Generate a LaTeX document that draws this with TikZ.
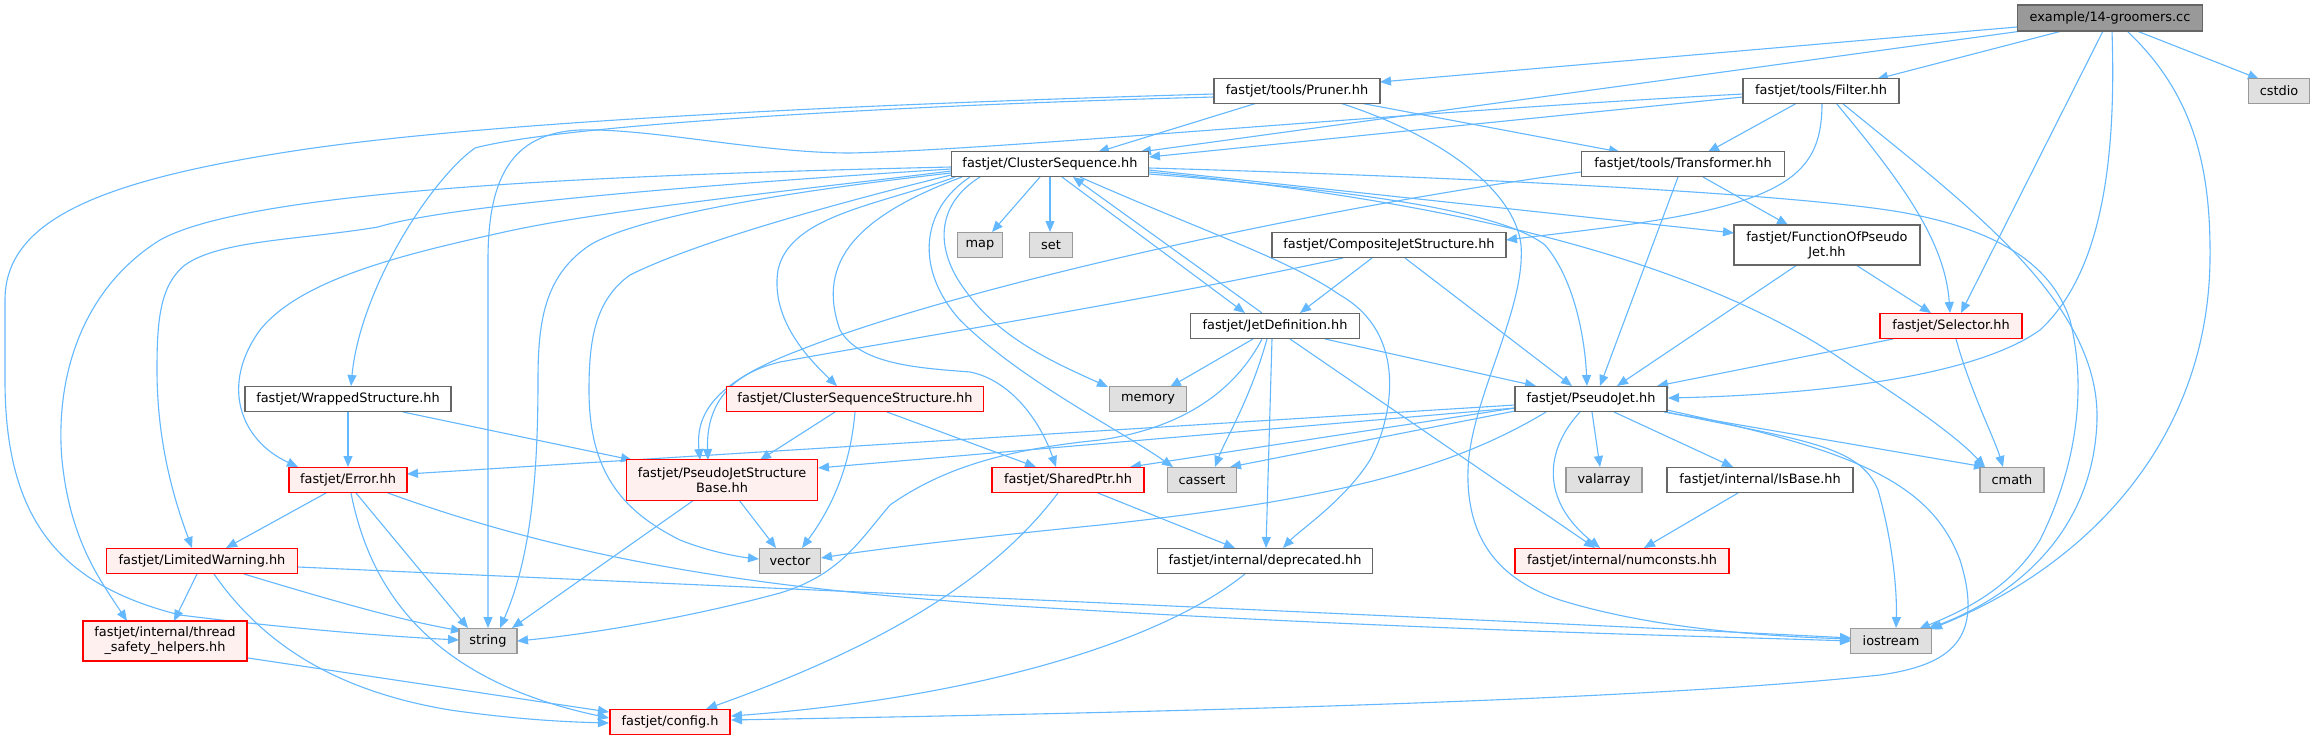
\documentclass[tikz,border=0pt]{standalone}
\usepackage{fontspec}
\setmainfont{DejaVu Sans}
\usetikzlibrary{arrows.meta,calc}
\definecolor{edgec}{HTML}{63B8FF}
\definecolor{nodeb}{HTML}{666666}
\definecolor{sysb}{HTML}{999999}
\definecolor{sysf}{HTML}{E0E0E0}
\definecolor{redf}{HTML}{FFF0F0}
\definecolor{egray}{HTML}{999999}
\pgfdeclarelayer{bg}
\pgfsetlayers{bg,main}
\begin{document}
\begin{tikzpicture}[x=0.5pt,y=-0.5pt,
  base/.style={line width=0.6pt, inner sep=0pt, minimum height=12.5pt, font=\fontsize{6.45}{7.5}\selectfont, align=center, text=black},
  wbox/.style={base, draw=nodeb, fill=white},
  gbox/.style={base, draw=nodeb, fill=egray},
  sbox/.style={base, draw=sysb, fill=sysf},
  rbox/.style={base, draw=red, fill=redf},
  nw/.style={minimum width=#1*0.5pt},
  tall/.style={minimum height=20pt},
  ed/.style={draw=edgec, line width=0.55pt, -{Triangle[length=5.5pt,width=4.5pt]}}]
\useasboundingbox (0,0) rectangle (2315,740);
% nodes
\node[gbox, nw=185, minimum height=13pt] (E) at (2110,18) {example/14-groomers.cc};
\node[sbox, nw=61] (cstdio) at (2279,91) {cstdio};
\node[wbox, nw=156] (filter) at (1821,91) {fastjet/tools/Filter.hh};
\node[wbox, nw=166] (pruner) at (1297,91) {fastjet/tools/Pruner.hh};
\node[wbox, nw=197] (cs) at (1050,164) {fastjet/ClusterSequence.hh};
\node[wbox, nw=203] (tr) at (1683,164) {fastjet/tools/Transformer.hh};
\node[sbox, nw=45] (map) at (980,245) {map};
\node[sbox, nw=43] (set) at (1051,245) {set};
\node[wbox, nw=234] (cjs) at (1389,245) {fastjet/CompositeJetStructure.hh};
\node[wbox, nw=186, tall] (fopj) at (1827,245) {fastjet/FunctionOfPseudo\\Jet.hh};
\node[wbox, nw=169] (jd) at (1275,326) {fastjet/JetDefinition.hh};
\node[rbox, nw=142] (sel) at (1951,326) {fastjet/Selector.hh};
\node[wbox, nw=206] (ws) at (348,399) {fastjet/WrappedStructure.hh};
\node[rbox, nw=257] (css) at (855,399) {fastjet/ClusterSequenceStructure.hh};
\node[sbox, nw=77] (mem) at (1148,399) {memory};
\node[wbox, nw=152] (pj) at (1591,399) {fastjet/PseudoJet.hh};
\node[rbox, nw=118] (err) at (348,480) {fastjet/Error.hh};
\node[rbox, nw=191, minimum height=20.5pt] (pjsb) at (722,480) {fastjet/PseudoJetStructure\\Base.hh};
\node[rbox, nw=152] (sp) at (1068,480) {fastjet/SharedPtr.hh};
\node[sbox, nw=69] (cas) at (1202,480) {cassert};
\node[sbox, nw=76] (val) at (1604,480) {valarray};
\node[wbox, nw=186] (isb) at (1760,480) {fastjet/internal/IsBase.hh};
\node[sbox, nw=64] (cmath) at (2012,480) {cmath};
\node[rbox, nw=191] (lw) at (202,561) {fastjet/LimitedWarning.hh};
\node[sbox, nw=61] (vec) at (790,561) {vector};
\node[wbox, nw=215] (dep) at (1265,561) {fastjet/internal/deprecated.hh};
\node[rbox, nw=214] (num) at (1622,561) {fastjet/internal/numconsts.hh};
\node[rbox, nw=164, tall] (thr) at (165,641) {fastjet/internal/thread\\\_safety\_helpers.hh};
\node[sbox, nw=58] (str) at (488,641) {string};
\node[sbox, nw=81] (ios) at (1891,641) {iostream};
\node[rbox, nw=120] (cfg) at (670,722) {fastjet/config.h};
\begin{pgfonlayer}{bg}
\fill[white] (0,0) rectangle (2315,740);
% example
\draw[ed] ($(E)+(-93,9)$) -- ($(pruner)+(83,-9)$);
\draw[ed] ($(E)+(-88,13)$) -- ($(cs)+(90,-12)$);
\draw[ed] ($(E)+(-48,13)$) -- ($(filter)+(56,-12)$);
\draw[ed] ($(E)+(-7,13)$) -- ($(sel)+(10,-13)$);
\draw[ed] ($(E)+(2,13)$) .. controls (2116,150) and (2105,270) .. (2040,330) .. controls (1970,380) and (1800,395) .. ($(pj)+(77,-1)$);
\draw[ed] ($(E)+(17,13)$) .. controls (2195,95) and (2211,170) .. (2210,260) .. controls (2208,430) and (2100,560) .. ($(ios)+(40,-12)$);
\draw[ed] ($(E)+(27,13)$) -- ($(cstdio)+(-20,-12)$);
% pruner
\draw[ed] ($(pruner)+(-40,12)$) -- ($(cs)+(48,-12)$);
\draw[ed] ($(pruner)+(63,12)$) -- ($(tr)+(-63,-12)$);
\draw[ed] ($(pruner)+(43,12)$) .. controls (1440,135) and (1515,190) .. (1521,245) .. controls (1526,310) and (1470,400) .. (1468,470) .. controls (1466,540) and (1500,580) .. (1560,600) .. controls (1650,628) and (1760,636) .. ($(ios)+(-40,-2)$);
\draw[ed] ($(pruner)+(-83,3)$) .. controls (900,103) and (500,120) .. (300,150) .. controls (100,180) and (5,220) .. (5,300) -- (5,380) .. controls (5,520) and (60,585) .. (180,615) .. controls (300,630) and (400,637) .. ($(str)+(-29,-1)$);
\draw[ed] ($(pruner)+(-83,6)$) .. controls (900,105) and (560,125) .. (475,148) .. controls (430,180) and (360,290) .. ($(ws)+(3,-13)$);
% filter
\draw[ed] ($(filter)+(-78,6)$) -- ($(cs)+(99,-7)$);
\draw[ed] ($(filter)+(-78,3)$) .. controls (1400,112) and (1000,150) .. (850,153) .. controls (760,153) and (650,128) .. (580,130) .. controls (510,133) and (488,180) .. (488,260) -- ($(str)+(0,-13)$);
\draw[ed] ($(filter)+(-24,12)$) -- ($(tr)+(25,-12)$);
\draw[ed] ($(filter)+(1,12)$) .. controls (1822,160) and (1800,190) .. (1700,212) .. controls (1640,225) and (1570,232) .. ($(cjs)+(117,-5)$);
\draw[ed] ($(filter)+(15,12)$) .. controls (1900,180) and (1945,240) .. ($(sel)+(-1,-13)$);
\draw[ed] ($(filter)+(21,12)$) .. controls (1960,200) and (2100,300) .. (2097,420) .. controls (2094,520) and (2030,590) .. ($(ios)+(37,-12)$);
% cluster sequence
\draw[ed] ($(cs)+(-10,13)$) -- ($(map)+(12,-13)$);
\draw[ed] ($(cs)+(0,13)$) -- ($(set)+(-1,-13)$);
\draw[ed] ($(cs)+(12,13)$) -- ($(jd)+(-30,-13)$);
\draw[ed] ($(jd)+(-13,-13)$) -- ($(cs)+(23,13)$);
\draw[ed] ($(cs)+(30,13)$) .. controls (1200,230) and (1290,260) .. (1340,295) .. controls (1410,335) and (1392,420) .. (1370,460) .. controls (1345,500) and (1300,530) .. ($(dep)+(18,-13)$);
\draw[ed] ($(cs)+(99,6)$) -- ($(fopj)+(-93,-12)$);
\draw[ed] ($(cs)+(99,8)$) .. controls (1450,200) and (1700,260) .. (1850,365) .. controls (1920,410) and (1960,440) .. ($(cmath)+(-27,-13)$);
\draw[ed] ($(cs)+(99,4)$) .. controls (1500,178) and (1800,195) .. (1900,212) .. controls (1990,228) and (2050,260) .. (2070,320) .. controls (2090,400) and (2070,480) .. (2040,540) .. controls (2010,590) and (1960,612) .. ($(ios)+(28,-12)$);
\draw[ed] ($(cs)+(99,10)$) .. controls (1350,190) and (1500,210) .. (1545,245) .. controls (1575,280) and (1585,340) .. ($(pj)+(-4,-13)$);
\draw[ed] ($(cs)+(-95,13)$) .. controls (880,205) and (790,215) .. (778,270) .. controls (770,320) and (810,360) .. ($(css)+(-18,-13)$);
\draw[ed] ($(cs)+(-88,13)$) .. controls (860,215) and (815,260) .. (840,330) .. controls (860,365) and (920,368) .. (970,372) .. controls (1010,380) and (1040,420) .. ($(sp)+(-12,-13)$);
\draw[ed] ($(cs)+(-80,13)$) .. controls (920,210) and (915,270) .. (960,320) .. controls (1020,380) and (1120,430) .. ($(cas)+(-29,-13)$);
\draw[ed] ($(cs)+(-70,13)$) .. controls (935,205) and (935,250) .. (965,290) .. controls (1000,340) and (1060,365) .. ($(mem)+(-40,-12)$);
\draw[ed] ($(cs)+(-99,3)$) .. controls (600,175) and (250,190) .. (160,240) .. controls (80,290) and (55,380) .. (62,460) .. controls (70,540) and (100,580) .. ($(thr)+(-38,-20)$);
\draw[ed] ($(cs)+(-99,5)$) .. controls (700,185) and (450,205) .. (378,227) .. controls (300,240) and (220,240) .. (185,265) .. controls (160,285) and (157,320) .. (157,370) .. controls (157,450) and (178,510) .. ($(lw)+(-10,-13)$);
\draw[ed] ($(cs)+(-99,7)$) .. controls (800,190) and (600,210) .. (500,233) .. controls (400,255) and (300,280) .. (260,330) .. controls (220,385) and (240,440) .. ($(err)+(-50,-13)$);
\draw[ed] ($(cs)+(-99,9)$) .. controls (800,190) and (640,215) .. (590,245) .. controls (545,275) and (538,320) .. (538,380) .. controls (538,480) and (530,560) .. ($(str)+(12,-13)$);
\draw[ed] ($(cs)+(-99,11)$) .. controls (850,200) and (700,240) .. (630,275) .. controls (595,300) and (589,340) .. (589,390) .. controls (589,470) and (620,510) .. (680,540) .. controls (710,552) and (740,557) .. ($(vec)+(-31,-2)$);
% jet definition
\draw[ed] ($(jd)+(-22,13)$) -- ($(mem)+(22,-12)$);
\draw[ed] ($(jd)+(-8,13)$) .. controls (1250,400) and (1225,440) .. ($(cas)+(13,-13)$);
\draw[ed] ($(jd)+(-3,13)$) -- ($(dep)+(1,-13)$);
\draw[ed] ($(jd)+(15,13)$) -- ($(num)+(-27,-13)$);
\draw[ed] ($(jd)+(50,13)$) -- ($(pj)+(-55,-13)$);
\draw[ed] ($(jd)+(-13,13)$) .. controls (1230,400) and (1170,430) .. (1100,440) .. controls (1000,450) and (940,470) .. (890,505) .. controls (860,540) and (840,575) .. (780,593) .. controls (680,620) and (580,635) .. ($(str)+(29,0)$);
% composite jet structure
\draw[ed] ($(cjs)+(-17,13)$) -- ($(jd)+(25,-13)$);
\draw[ed] ($(cjs)+(16,13)$) -- ($(pj)+(-19,-13)$);
\draw[ed] ($(cjs)+(-46,13)$) .. controls (1150,300) and (900,340) .. (780,362) .. controls (725,375) and (706,410) .. ($(pjsb)+(-14,-20)$);
% transformer
\draw[ed] ($(tr)+(-102,8)$) .. controls (1300,210) and (950,290) .. (800,350) .. controls (720,380) and (695,410) .. ($(pjsb)+(-22,-20)$);
\draw[ed] ($(tr)+(-5,13)$) -- ($(pj)+(9,-13)$);
\draw[ed] ($(tr)+(20,13)$) -- ($(fopj)+(-39,-20)$);
% function of pseudojet
\draw[ed] ($(fopj)+(-30,20)$) -- ($(pj)+(26,-13)$);
\draw[ed] ($(fopj)+(29,20)$) -- ($(sel)+(-20,-13)$);
% selector
\draw[ed] ($(sel)+(-58,13)$) -- ($(pj)+(66,-13)$);
\draw[ed] ($(sel)+(5,13)$) .. controls (1970,390) and (1995,440) .. ($(cmath)+(-9,-13)$);
% pseudojet
\draw[ed] ($(pj)+(-76,6)$) -- ($(err)+(59,-6)$);
\draw[ed] ($(pj)+(-76,9)$) -- ($(pjsb)+(96,-12)$);
\draw[ed] ($(pj)+(-76,9)$) -- ($(sp)+(62,-13)$);
\draw[ed] ($(pj)+(-76,12)$) -- ($(cas)+(28,-13)$);
\draw[ed] ($(pj)+(-45,13)$) .. controls (1450,470) and (1330,500) .. (1100,525) .. controls (950,540) and (870,550) .. ($(vec)+(31,-3)$);
\draw[ed] ($(pj)+(-11,13)$) .. controls (1545,450) and (1540,500) .. ($(num)+(-22,-13)$);
\draw[ed] ($(pj)+(1,13)$) -- ($(val)+(-4,-13)$);
\draw[ed] ($(pj)+(23,13)$) -- ($(isb)+(-27,-13)$);
\draw[ed] ($(pj)+(73,13)$) -- ($(cmath)+(-27,-13)$);
\draw[ed] ($(pj)+(75,13)$) .. controls (1800,440) and (1860,445) .. (1878,490) .. controls (1895,550) and (1897,600) .. ($(ios)+(5,-13)$);
\draw[ed] ($(pj)+(76,11)$) .. controls (1850,450) and (1930,480) .. (1960,560) .. controls (1985,640) and (1950,665) .. (1880,675) .. controls (1600,705) and (1000,715) .. ($(cfg)+(61,-2)$);
% deprecated, sharedptr
\draw[ed] ($(dep)+(-20,13)$) .. controls (1150,650) and (950,700) .. ($(cfg)+(61,-6)$);
\draw[ed] ($(sp)+(-10,13)$) .. controls (1000,570) and (900,640) .. ($(cfg)+(36,-13)$);
\draw[ed] ($(sp)+(30,13)$) -- ($(dep)+(-30,-13)$);
% cluster sequence structure
\draw[ed] ($(css)+(-20,13)$) -- ($(pjsb)+(38,-20)$);
\draw[ed] ($(css)+(0,13)$) .. controls (850,470) and (830,510) .. ($(vec)+(12,-13)$);
\draw[ed] ($(css)+(32,13)$) -- ($(sp)+(-32,-13)$);
% wrapped structure
\draw[ed] ($(ws)+(0,13)$) -- ($(err)+(0,-13)$);
\draw[ed] ($(ws)+(55,13)$) -- ($(pjsb)+(-90,-20)$);
% error
\draw[ed] ($(err)+(-22,13)$) -- ($(lw)+(24,-13)$);
\draw[ed] ($(err)+(8,13)$) -- ($(str)+(-20,-13)$);
\draw[ed] ($(err)+(3,13)$) .. controls (370,590) and (430,680) .. ($(cfg)+(-61,-4)$);
\draw[ed] ($(err)+(40,13)$) .. controls (600,570) and (800,590) .. (1000,605) .. controls (1400,630) and (1700,636) .. ($(ios)+(-40,0)$);
% limited warning
\draw[ed] ($(lw)+(-5,13)$) -- ($(thr)+(9,-20)$);
\draw[ed] ($(lw)+(42,13)$) .. controls (330,600) and (400,620) .. ($(str)+(-26,-10)$);
\draw[ed] ($(lw)+(12,13)$) .. controls (260,640) and (330,690) .. (450,710) .. controls (520,720) and (570,722) .. ($(cfg)+(-61,1)$);
\draw[ed] ($(lw)+(96,6)$) .. controls (700,585) and (1500,620) .. ($(ios)+(-40,-3)$);
% thread safety
\draw[ed] ($(thr)+(83,17)$) -- ($(cfg)+(-61,-10)$);
% pseudojet structure base
\draw[ed] ($(pjsb)+(-28,20)$) -- ($(str)+(24,-13)$);
\draw[ed] ($(pjsb)+(17,20)$) -- ($(vec)+(-14,-13)$);
% isbase
\draw[ed] ($(isb)+(-22,13)$) -- ($(num)+(22,-13)$);
\end{pgfonlayer}
\end{tikzpicture}
\end{document}
